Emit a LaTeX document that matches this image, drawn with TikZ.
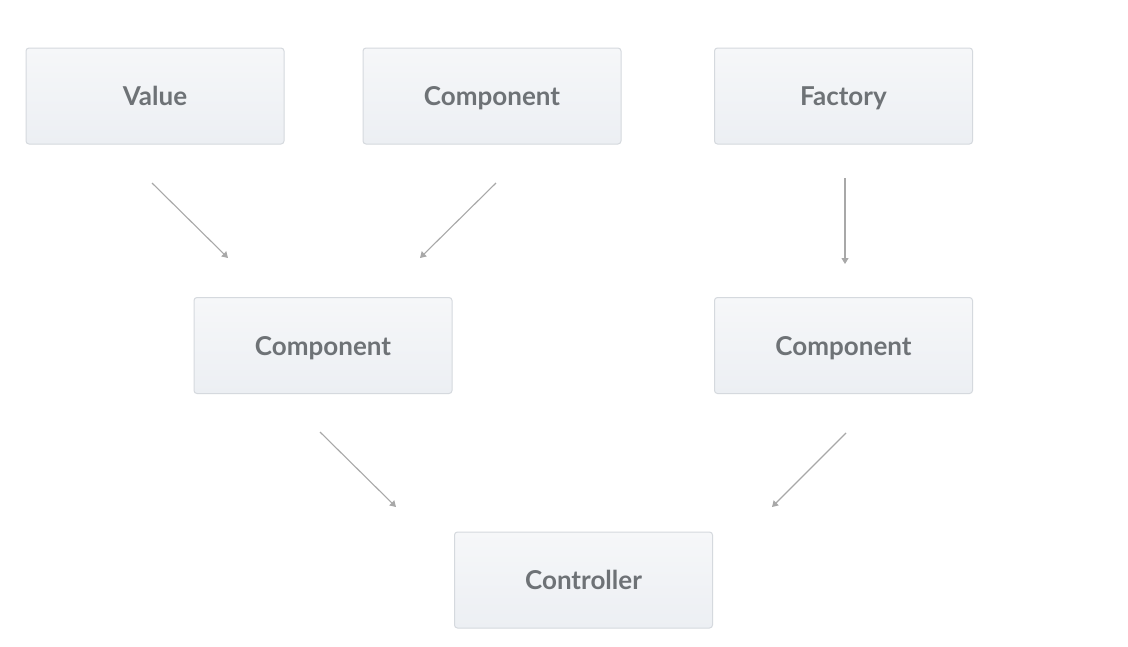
\documentclass[tikz,border=0pt]{standalone}
\usepackage{fontspec}
\setsansfont{Lato}
\usetikzlibrary{arrows.meta}
\definecolor{boxtop}{HTML}{F6F7F9}
\definecolor{boxbot}{HTML}{ECEFF3}
\definecolor{boxline}{HTML}{D5D9DE}
\definecolor{txt}{HTML}{6E7276}
\definecolor{arr}{HTML}{A8A8A8}
\tikzset{
  card/.style={draw=boxline, line width=1pt, rounded corners=3pt,
    top color=boxtop, bottom color=boxbot,
    minimum width=258pt, minimum height=96pt, inner sep=0pt,
    text height=19pt, text depth=0pt,
    font=\sffamily\bfseries\fontsize{26}{30}\selectfont, text=txt},
  link/.style={draw=arr, line width=1.1pt,
    -{Triangle[length=6pt,width=7pt]}}
}
\begin{document}
\begin{tikzpicture}[x=1pt,y=-1pt]
\useasboundingbox (0,0) rectangle (1128,646);
\fill[white] (0,0) rectangle (1128,646);
\node[card] (value) at (155,96) {Value};
\node[card] (comp1) at (492,96) {Component};
\node[card] (factory) at (843.5,96) {Factory};
\node[card] (comp2) at (323,345.5) {Component};
\node[card] (comp3) at (843.5,345.5) {Component};
\node[card] (ctrl) at (583.5,580) {Controller};
\coordinate (a1s) at (152,183); \coordinate (a1e) at (228,258);
\coordinate (a2s) at (496,183); \coordinate (a2e) at (420,258);
\coordinate (a3s) at (845,178); \coordinate (a3e) at (845,264);
\coordinate (a4s) at (320,432); \coordinate (a4e) at (396,507);
\coordinate (a5s) at (846,433); \coordinate (a5e) at (772,507);
\draw[link] (a1s) -- (a1e);
\draw[link] (a2s) -- (a2e);
\draw[link] (a3s) -- (a3e);
\draw[link] (a4s) -- (a4e);
\draw[link] (a5s) -- (a5e);
\end{tikzpicture}
\end{document}
